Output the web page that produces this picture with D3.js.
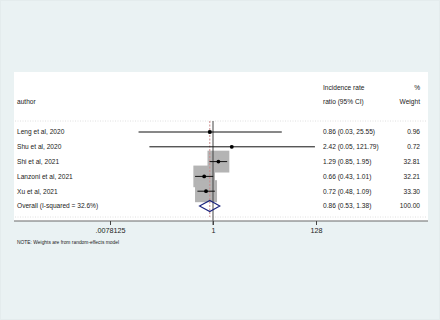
<!DOCTYPE html>
<html><head><meta charset="utf-8">
<script src="https://cdn.jsdelivr.net/npm/d3@7"></script>
<style>
html,body{margin:0;padding:0;background:#eaf2f3;}
svg{display:block;font-family:"Liberation Sans",Arial,sans-serif;}
</style></head>
<body><svg id="c" width="440" height="320"></svg>
<script>
const authors = ["Leng et al, 2020","Shu et al, 2020","Shi et al, 2021","Lanzoni et al, 2021","Xu et al, 2021"];
const irr = [0.86, 2.42, 1.29, 0.66, 0.72];
const lower = [0.03, 0.05, 0.85, 0.43, 0.48];
const upper = [25.55, 121.79, 1.95, 1.01, 1.09];
const weights = [0.96, 0.72, 32.81, 32.21, 33.30];
const ciLabels = ["0.86 (0.03, 25.55)","2.42 (0.05, 121.79)","1.29 (0.85, 1.95)","0.66 (0.43, 1.01)","0.72 (0.48, 1.09)"];
const weightLabels = ["0.96","0.72","32.81","32.21","33.30"];
const overallLabel = "Overall  (I-squared = 32.6%)";
const overallEst = 0.86, overallLo = 0.53, overallHi = 1.38;
const overallCI = "0.86 (0.53, 1.38)", overallWeight = "100.00";
const tickValues = [0.0078125, 1, 128];
const tickLabels = [".0078125", "1", "128"];

const svg = d3.select("#c");
// outer faint border
svg.append("rect").attr("x",0.5).attr("y",0.5).attr("width",439).attr("height",319)
  .attr("fill","#eaf2f3").attr("stroke","#dfe6e7").attr("stroke-dasharray","1,1");
// white plot panel
svg.append("rect").attr("x",14).attr("y",72).attr("width",414).attr("height",149).attr("fill","#ffffff");

const x = d3.scaleLog().base(2).domain([tickValues[0], tickValues[2]]).range([110, 316]);
const rows = authors.concat([overallLabel]);
const y = d3.scalePoint().domain(rows).range([132, 206]);
const side = d3.scaleSqrt().domain([0, 33.3]).range([0, 22]);
const fs = 6.6;

// header
const hdr = svg.append("g").attr("font-size", fs).attr("fill","#222");
hdr.append("text").attr("x",17).attr("y",104).text("author");
hdr.append("text").attr("x",323).attr("y",90).text("Incidence rate");
hdr.append("text").attr("x",323).attr("y",104).text("ratio (95% CI)");
hdr.append("text").attr("x",420).attr("y",90).attr("text-anchor","end").text("%");
hdr.append("text").attr("x",420).attr("y",104).attr("text-anchor","end").text("Weight");

// dotted separators
[121, 217].forEach(yy => svg.append("line").attr("x1",15).attr("x2",427).attr("y1",yy).attr("y2",yy)
  .attr("stroke","#d8d8d8").attr("stroke-width",0.8).attr("stroke-dasharray","1,1.5"));

// squares
svg.append("g").selectAll("rect").data(authors).join("rect")
  .attr("x",(d,i)=>x(irr[i]) - side(weights[i])/2)
  .attr("y",(d,i)=>y(d) - side(weights[i])/2)
  .attr("width",(d,i)=>side(weights[i]))
  .attr("height",(d,i)=>side(weights[i]))
  .attr("fill","#b4b4b4");

// null line at 1
svg.append("line").attr("x1",x(1)).attr("x2",x(1)).attr("y1",121).attr("y2",225)
  .attr("stroke","#444").attr("stroke-width",1);
// overall dashed line
svg.append("line").attr("x1",x(overallEst)).attr("x2",x(overallEst)).attr("y1",121).attr("y2",217)
  .attr("stroke","#c98a8a").attr("stroke-width",1).attr("stroke-dasharray","2,1.5");

// CI lines
svg.append("g").selectAll("line").data(authors).join("line")
  .attr("x1",(d,i)=>x(lower[i])).attr("x2",(d,i)=>x(upper[i]))
  .attr("y1",d=>y(d)).attr("y2",d=>y(d))
  .attr("stroke","#111").attr("stroke-width",1);
// points
svg.append("g").selectAll("circle").data(authors).join("circle")
  .attr("cx",(d,i)=>x(irr[i])).attr("cy",d=>y(d)).attr("r",1.9).attr("fill","#000");

// diamond
const yo = y(overallLabel);
svg.append("path")
  .attr("d", `M${x(overallLo)},${yo} L${x(overallEst)},${yo-5.5} L${x(overallHi)},${yo} L${x(overallEst)},${yo+5.5} Z`)
  .attr("fill","none").attr("stroke","#1a237e").attr("stroke-width",1.1);

// row texts
const rt = svg.append("g").attr("font-size", fs).attr("fill","#222");
rt.selectAll("text.a").data(rows).join("text").attr("class","a")
  .attr("x",17).attr("y",d=>y(d)).attr("dy","0.35em").text(d=>d);
rt.selectAll("text.c").data(ciLabels.concat([overallCI])).join("text").attr("class","c")
  .attr("x",323).attr("y",(d,i)=>y(rows[i])).attr("dy","0.35em").text(d=>d);
rt.selectAll("text.w").data(weightLabels.concat([overallWeight])).join("text").attr("class","w")
  .attr("x",420).attr("y",(d,i)=>y(rows[i])).attr("dy","0.35em").attr("text-anchor","end").text(d=>d);

// axis
const ax = svg.append("g").attr("transform","translate(0,221)");
ax.append("line").attr("x1",14).attr("x2",428).attr("y1",0).attr("y2",0).attr("stroke","#6a6a6a").attr("stroke-width",1.2);
const axis = d3.axisBottom(x).tickValues(tickValues).tickFormat((d,i)=>tickLabels[i]).tickSize(4).tickPadding(3);
const ag = ax.append("g").call(axis);
ag.select(".domain").remove();
ag.selectAll(".tick line").attr("stroke","#444");
ag.selectAll(".tick text").attr("font-size",7.2).attr("font-family","'Liberation Sans',Arial,sans-serif").attr("fill","#222");

// note
svg.append("text").attr("x",17).attr("y",244).attr("font-size",4.9).attr("fill","#222")
  .text("NOTE: Weights are from random-effects model");
</script></body></html>
